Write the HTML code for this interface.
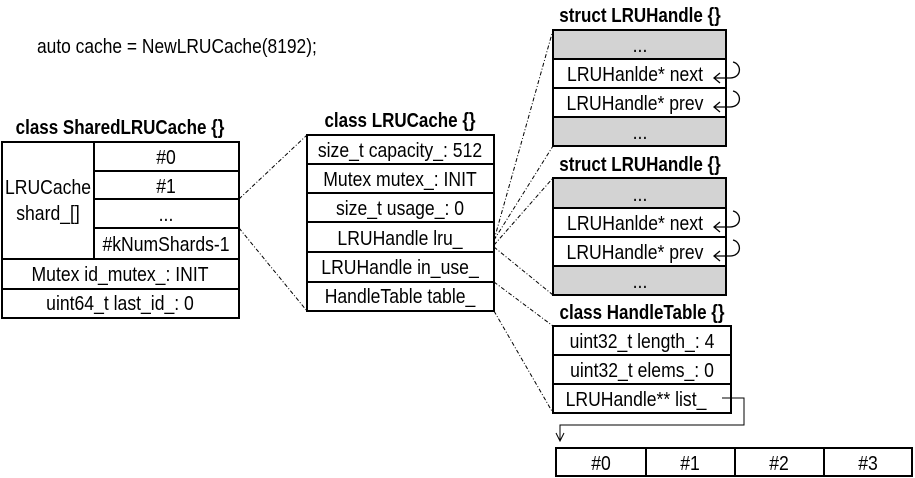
<!DOCTYPE html>
<html><head><meta charset="utf-8"><style>
body{margin:0;background:#fff;}
svg{display:block;}
text{font-family:"Liberation Sans",sans-serif;font-size:20px;fill:#000;text-anchor:middle;}
.b{font-weight:bold;}
.l{text-anchor:start;}
rect{stroke:#000;stroke-width:2;}
.d{stroke:#000;stroke-width:1;stroke-dasharray:4,2,1,2;fill:none;}
</style></head><body>
<svg width="915" height="478" viewBox="0 0 915 478">
<text class="l" transform="translate(37 53) scale(.87 1)">auto cache = NewLRUCache(8192);</text>

<!-- SharedLRUCache -->
<text class="b" transform="translate(120 134) scale(.85 1)">class SharedLRUCache {}</text>
<rect x="2" y="142" width="237" height="176" fill="#fff"/>
<line x1="94" y1="142" x2="94" y2="259" stroke="#000" stroke-width="2"/>
<line x1="94" y1="171" x2="239" y2="171" stroke="#000" stroke-width="2"/>
<line x1="94" y1="199" x2="239" y2="199" stroke="#000" stroke-width="2"/>
<line x1="94" y1="228" x2="239" y2="228" stroke="#000" stroke-width="2"/>
<line x1="2" y1="259" x2="239" y2="259" stroke="#000" stroke-width="2"/>
<line x1="2" y1="289" x2="239" y2="289" stroke="#000" stroke-width="2"/>
<g>
<text transform="translate(166 164) scale(.88 1)">#0</text>
<text transform="translate(166 193) scale(.88 1)">#1</text>
<text transform="translate(166 221) scale(.88 1)">...</text>
<text transform="translate(166 251) scale(.88 1)">#kNumShards-1</text>
<text transform="translate(48 194) scale(.88 1)">LRUCache</text>
<text transform="translate(48 220) scale(.88 1)">shard_[]</text>
<text transform="translate(120 281) scale(.88 1)">Mutex id_mutex_: INIT</text>
<text transform="translate(120 310) scale(.88 1)">uint64_t last_id_: 0</text>
</g>

<!-- LRUCache -->
<text class="b" transform="translate(400 127) scale(.85 1)">class LRUCache {}</text>
<rect x="307" y="135" width="187" height="176" fill="#fff"/>
<line x1="307" y1="164" x2="494" y2="164" stroke="#000" stroke-width="2"/>
<line x1="307" y1="193" x2="494" y2="193" stroke="#000" stroke-width="2"/>
<line x1="307" y1="222" x2="494" y2="222" stroke="#000" stroke-width="2"/>
<line x1="307" y1="252" x2="494" y2="252" stroke="#000" stroke-width="2"/>
<line x1="307" y1="282" x2="494" y2="282" stroke="#000" stroke-width="2"/>
<text transform="translate(400 157) scale(.88 1)">size_t capacity_: 512</text>
<text transform="translate(400 186) scale(.88 1)">Mutex mutex_: INIT</text>
<text transform="translate(400 215) scale(.88 1)">size_t usage_: 0</text>
<text transform="translate(400 245) scale(.88 1)">LRUHandle lru_</text>
<text transform="translate(400 274) scale(.88 1)">LRUHandle in_use_</text>
<text transform="translate(400 303) scale(.88 1)">HandleTable table_</text>

<!-- struct 1 -->
<text class="b" transform="translate(640 22) scale(.85 1)">struct LRUHandle {}</text>
<rect x="553" y="30" width="173" height="29" fill="#d3d3d3"/>
<rect x="553" y="59" width="173" height="29" fill="#fff"/>
<rect x="553" y="88" width="173" height="29" fill="#fff"/>
<rect x="553" y="117" width="173" height="29" fill="#d3d3d3"/>
<text transform="translate(640 52) scale(.88 1)">...</text>
<text transform="translate(635 81) scale(.88 1)">LRUHanlde* next</text>
<text transform="translate(635 110) scale(.88 1)">LRUHandle* prev</text>
<text transform="translate(640 139) scale(.88 1)">...</text>

<!-- struct 2 -->
<text class="b" transform="translate(640 171) scale(.85 1)">struct LRUHandle {}</text>
<rect x="553" y="178" width="173" height="30" fill="#d3d3d3"/>
<rect x="553" y="208" width="173" height="29" fill="#fff"/>
<rect x="553" y="237" width="173" height="29" fill="#fff"/>
<rect x="553" y="266" width="173" height="29" fill="#d3d3d3"/>
<text transform="translate(640 201) scale(.88 1)">...</text>
<text transform="translate(635 230) scale(.88 1)">LRUHanlde* next</text>
<text transform="translate(635 259) scale(.88 1)">LRUHandle* prev</text>
<text transform="translate(640 288) scale(.88 1)">...</text>

<!-- self loops -->
<g fill="none" stroke="#000" stroke-width="1.3">
<path d="M714 78 H730 C742 78 742 64 733 62"/><path d="M720 73 L714 78 L720 83"/>
<path d="M714 107 H730 C742 107 742 93 733 91"/><path d="M720 102 L714 107 L720 112"/>
<path d="M714 227 H730 C742 227 742 213 733 211"/><path d="M720 222 L714 227 L720 232"/>
<path d="M714 256 H730 C742 256 742 242 733 240"/><path d="M720 251 L714 256 L720 261"/>
</g>

<!-- HandleTable -->
<text class="b" transform="translate(642 319) scale(.85 1)">class HandleTable {}</text>
<rect x="553" y="326" width="178" height="29" fill="#fff"/>
<rect x="553" y="355" width="178" height="29" fill="#fff"/>
<rect x="553" y="384" width="178" height="29" fill="#fff"/>
<text transform="translate(642 348) scale(.88 1)">uint32_t length_: 4</text>
<text transform="translate(642 377) scale(.88 1)">uint32_t elems_: 0</text>
<text transform="translate(636 406) scale(.88 1)">LRUHandle** list_</text>
<path d="M722 398 H744 V425 H560 V440" fill="none" stroke="#000" stroke-width="1"/>
<path d="M556 433 L560 441 L564 433" fill="none" stroke="#000" stroke-width="1"/>

<!-- array -->
<rect x="556" y="448" width="356" height="28" fill="#fff"/>
<line x1="646" y1="448" x2="646" y2="476" stroke="#000" stroke-width="2"/>
<line x1="735" y1="448" x2="735" y2="476" stroke="#000" stroke-width="2"/>
<line x1="824" y1="448" x2="824" y2="476" stroke="#000" stroke-width="2"/>
<text transform="translate(601 470) scale(.88 1)">#0</text>
<text transform="translate(690 470) scale(.88 1)">#1</text>
<text transform="translate(779 470) scale(.88 1)">#2</text>
<text transform="translate(868 470) scale(.88 1)">#3</text>

<!-- dashed connectors -->
<path class="d" d="M239 199 L307 135"/>
<path class="d" d="M239 228 L307 311"/>
<path class="d" d="M494 240 L553 30"/>
<path class="d" d="M494 240 L553 146"/>
<path class="d" d="M494 245 L553 178"/>
<path class="d" d="M494 247 L553 295"/>
<path class="d" d="M494 282 L553 326"/>
<path class="d" d="M494 311 L553 413"/>
</svg>
</body></html>
